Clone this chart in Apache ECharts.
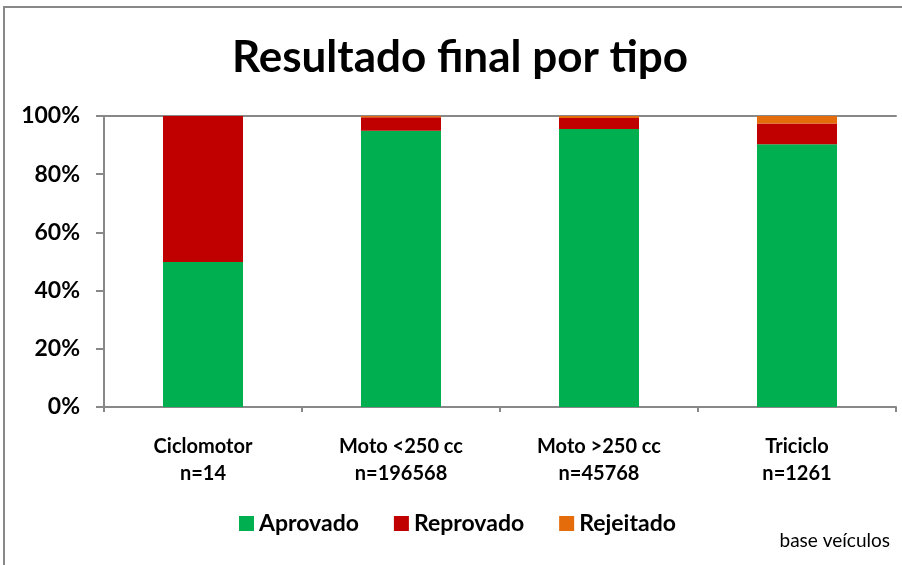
<!DOCTYPE html>
<html>
<head>
<meta charset="utf-8">
<script src="https://cdn.jsdelivr.net/npm/echarts@6/dist/echarts.min.js"></script>
<style>
  html, body { margin: 0; padding: 0; background: #fff; }
  #main { width: 902px; height: 565px; }
</style>
</head>
<body>
<div id="main"></div>
<script>
// dados (percentagem por tipo)
const categories = ['Ciclomotor', 'Moto <250 cc', 'Moto >250 cc', 'Triciclo']
const counts = ['n=14', 'n=196568', 'n=45768', 'n=1261']
const aprovado = [49.8, 94.9, 95.5, 90.3]
const reprovado = [50.2, 4.7, 3.8, 7.1]
const rejeitado = [0, 0.4, 0.7, 2.6]
const yTicks = [0, 20, 40, 60, 80, 100]

const font = 'Lato, "Open Sans", sans-serif'
const chart = echarts.init(document.getElementById('main'))

const barSeries = (name, data, color) => ({
  name: name,
  type: 'bar',
  stack: 'total',
  barWidth: 80,
  data: data,
  itemStyle: { color: color },
  emphasis: { disabled: true }
})

chart.setOption({
  animation: false,
  textStyle: { fontFamily: font },
  title: {
    text: 'Resultado final por tipo',
    left: 455,
    top: 31,
    textAlign: 'center',
    textStyle: { fontSize: 44, fontWeight: 'bold', color: '#000', fontFamily: font }
  },
  legend: {
    bottom: 25,
    left: 234,
    itemWidth: 15,
    itemHeight: 15,
    itemGap: 35,
    icon: 'rect',
    textStyle: { fontSize: 23, fontWeight: 'bold', color: '#000', fontFamily: font },
    data: ['Aprovado', 'Reprovado', 'Rejeitado']
  },
  grid: { left: 104, right: 6, top: 116, bottom: 158 },
  xAxis: [
    {
      type: 'category',
      data: categories.map((c, i) => c + '\n' + counts[i]),
      axisLine: { lineStyle: { color: '#888', width: 2 } },
      axisTick: { show: true, length: 5, lineStyle: { color: '#888', width: 2 } },
      axisLabel: {
        color: '#000', fontSize: 20, fontWeight: 'bold', lineHeight: 27,
        margin: 26, fontFamily: font
      }
    },
    {
      type: 'category',
      position: 'top',
      data: categories,
      axisLine: { show: true, lineStyle: { color: '#888', width: 2 } },
      axisTick: { show: false },
      axisLabel: { show: false }
    }
  ],
  yAxis: {
    type: 'value',
    min: 0,
    max: 100,
    interval: 20,
    axisLine: { show: true, lineStyle: { color: '#888', width: 2 } },
    axisTick: { show: true, length: 8, lineStyle: { color: '#888', width: 2 } },
    splitLine: { show: false },
    axisLabel: {
      color: '#000', fontSize: 23, fontWeight: 'bold', margin: 24, fontFamily: font,
      formatter: v => (yTicks.includes(v) ? v + '%' : '')
    }
  },
  series: [
    barSeries('Aprovado', aprovado, '#00B050'),
    barSeries('Reprovado', reprovado, '#C00000'),
    barSeries('Rejeitado', rejeitado, '#E46C0A')
  ],
  graphic: [
    {
      type: 'rect',
      shape: { x: 4, y: 7, width: 950, height: 650 },
      style: { fill: 'none', stroke: '#888', lineWidth: 2 }
    },
    {
      type: 'text',
      right: 12,
      top: 531,
      style: { text: 'base veículos', fontSize: 19, fill: '#000', fontFamily: font }
    }
  ]
})
</script>
</body>
</html>
